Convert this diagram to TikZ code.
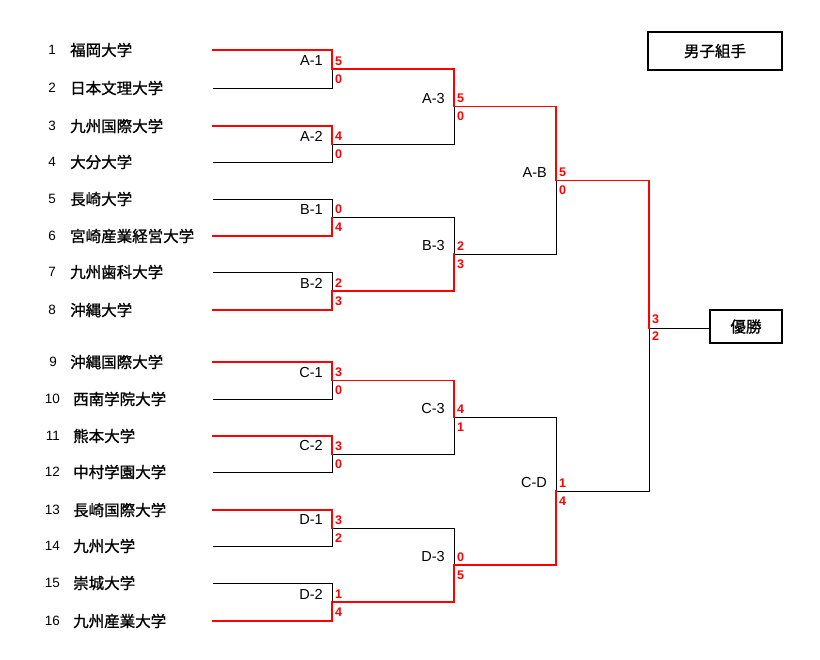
\documentclass[tikz,border=0pt]{standalone}
\usepackage{fontspec}
\setmainfont{Liberation Sans}
\newfontfamily\jp[FakeBold=1]{Noto Sans CJK JP}
\newcommand\minfo[4]{%
  \path (#1) ++(-9,-8) node[match] (lab#1) {#2};
  \path (#1) ++(3,-8) node[score] (su#1) {#3};
  \path (#1) ++(3,10) node[score] (sd#1) {#4};}
\begin{document}
\begin{tikzpicture}[x=1pt,y=-1pt,
  lose/.style={draw=black,line width=0.9pt},
  win/.style={draw=red,line width=1.7pt,line cap=rect},
  team/.style={anchor=west,font=\jp\fontsize{15.5}{17}\selectfont,inner sep=0pt},
  num/.style={anchor=east,font=\fontsize{13.5}{15}\selectfont,inner sep=0pt},
  match/.style={anchor=east,font=\fontsize{14.5}{16}\selectfont,inner sep=0pt},
  score/.style={anchor=west,text=red,font=\bfseries\fontsize{12.5}{14}\selectfont,inner sep=0pt},
  box/.style={draw=black,line width=1.6pt,font=\jp\fontsize{15.5}{17}\selectfont}]
\useasboundingbox (0,0) rectangle (820,660);
% teams
\foreach \i/\nx/\tx/\y/\n in {
  1/56/70/50/福岡大学, 2/56/70/88/日本文理大学, 3/56/70/126/九州国際大学,
  4/56/70/162/大分大学, 5/56/70/199/長崎大学, 6/56/70/236/宮崎産業経営大学,
  7/56/70/272/九州歯科大学, 8/56/70/310/沖縄大学, 9/57/70/362/沖縄国際大学,
  10/60/73/399/西南学院大学, 11/60/73/436/熊本大学, 12/60/73/472/中村学園大学,
  13/60/73/510/長崎国際大学, 14/60/73/546/九州大学, 15/60/73/583/崇城大学,
  16/60/73/621/九州産業大学}{
  \node[num] (n\i) at (\nx,\y) {\i};
  \node[team] (name\i) at (\tx,\y) {\n};
  \coordinate (t\i) at (213,\y);
}
% junctions
\coordinate (A1) at (332,69);
\coordinate (A2) at (332,144);
\coordinate (B1) at (332,217.5);
\coordinate (B2) at (332,291);
\coordinate (C1) at (332,380.5);
\coordinate (C2) at (332,454);
\coordinate (D1) at (332,528);
\coordinate (D2) at (332,602);
\coordinate (A3) at (454,106.5);
\coordinate (B3) at (454,254);
\coordinate (C3) at (454,417);
\coordinate (D3) at (454,565);
\coordinate (AB) at (556,180.5);
\coordinate (CD) at (556,491);
\coordinate (F) at (649,328);
% boxes
\node[box,minimum width=134pt,minimum height=38pt] (title) at (715,51) {男子組手};
\node[box,minimum width=72pt,minimum height=33pt] (champ) at (746,326.5) {優勝};
% losing paths
\draw[lose] (t2) -| (A1);
\draw[lose] (t4) -| (A2);
\draw[lose] (t5) -| (B1);
\draw[lose] (t7) -| (B2);
\draw[lose] (t10) -| (C1);
\draw[lose] (t12) -| (C2);
\draw[lose] (t14) -| (D1);
\draw[lose] (t15) -| (D2);
\draw[lose] (A2) -| (A3);
\draw[lose] (B1) -| (B3);
\draw[lose] (C2) -| (C3);
\draw[lose] (D1) -| (D3);
\draw[lose] (B3) -| (AB);
\draw[lose] (C3) -| (CD);
\draw[lose] (CD) -| (F);
\draw[lose] (F) -- (champ.west |- F);
% winning paths
\draw[win] (t1) -| (A1);
\draw[win] (t3) -| (A2);
\draw[win] (t6) -| (B1);
\draw[win] (t8) -| (B2);
\draw[win] (t9) -| (C1);
\draw[win] (t11) -| (C2);
\draw[win] (t13) -| (D1);
\draw[win] (t16) -| (D2);
\draw[win] (A1) -| (A3);
\draw[win] (B2) -| (B3);
\draw[win] (C1) -| (C3);
\draw[win] (D2) -| (D3);
\draw[win] (A3) -| (AB);
\draw[win] (D3) -| (CD);
\draw[win] (AB) -| (F);
% labels and scores
\minfo{A1}{A-1}{5}{0}
\minfo{A2}{A-2}{4}{0}
\minfo{B1}{B-1}{0}{4}
\minfo{B2}{B-2}{2}{3}
\minfo{C1}{C-1}{3}{0}
\minfo{C2}{C-2}{3}{0}
\minfo{D1}{D-1}{3}{2}
\minfo{D2}{D-2}{1}{4}
\minfo{A3}{A-3}{5}{0}
\minfo{B3}{B-3}{2}{3}
\minfo{C3}{C-3}{4}{1}
\minfo{D3}{D-3}{0}{5}
\minfo{AB}{A-B}{5}{0}
\minfo{CD}{C-D}{1}{4}
\path (F) ++(3,-9) node[score] (suF) {3};
\path (F) ++(3,8) node[score] (sdF) {2};
\end{tikzpicture}
\end{document}
